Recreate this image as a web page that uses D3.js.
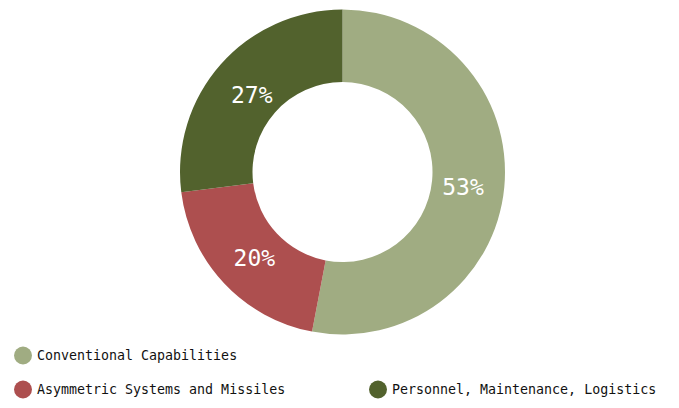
<!DOCTYPE html>
<html>
<head>
<meta charset="utf-8">
<script src="https://cdn.jsdelivr.net/npm/d3@7"></script>
<style>
  html, body { margin: 0; padding: 0; background: #fff; }
  svg { display: block; }
</style>
</head>
<body>
<svg id="chart" width="679" height="408"></svg>
<script>
const categories = ["Conventional Capabilities", "Asymmetric Systems and Missiles", "Personnel, Maintenance, Logistics"];
const shares = [53, 20, 27];
const colors = ["#a0ac82", "#ad4f4f", "#52622d"];

const svg = d3.select("#chart");
const cx = 342.5, cy = 172, outerR = 162.5, innerR = 90;

const pie = d3.pie().sort(null).value(d => d.value);
const arcs = pie(categories.map((c, i) => ({ name: c, value: shares[i], color: colors[i] })));
const arc = d3.arc().innerRadius(innerR).outerRadius(outerR);
const labelArc = d3.arc().innerRadius(121).outerRadius(121);

const g = svg.append("g").attr("transform", `translate(${cx},${cy})`);
g.selectAll("path.slice").data(arcs).join("path")
  .attr("class", "slice")
  .attr("d", arc)
  .attr("fill", d => d.data.color);

g.selectAll("text.pct").data(arcs).join("text")
  .attr("class", "pct")
  .attr("transform", d => `translate(${labelArc.centroid(d)})`)
  .attr("text-anchor", "middle")
  .attr("dy", "0.5em")
  .attr("fill", "#fff")
  .style("font-family", "'DejaVu Sans Mono', monospace")
  .style("font-size", "23px")
  .text(d => d.data.value + "%");

// legend: two rows, third entry sits in the second column
const legendPos = [[23, 355.5], [23, 389.5], [378, 389.5]];
const legend = svg.selectAll("g.leg").data(categories).join("g")
  .attr("class", "leg")
  .attr("transform", (d, i) => `translate(${legendPos[i][0]},${legendPos[i][1]})`);
legend.append("circle").attr("r", 9).attr("fill", (d, i) => colors[i]);
legend.append("text")
  .attr("x", 14)
  .attr("dy", "0.35em")
  .attr("fill", "#111")
  .style("font-family", "'DejaVu Sans Mono', monospace")
  .style("font-size", "13.3px")
  .text(d => d);
</script>
</body>
</html>
